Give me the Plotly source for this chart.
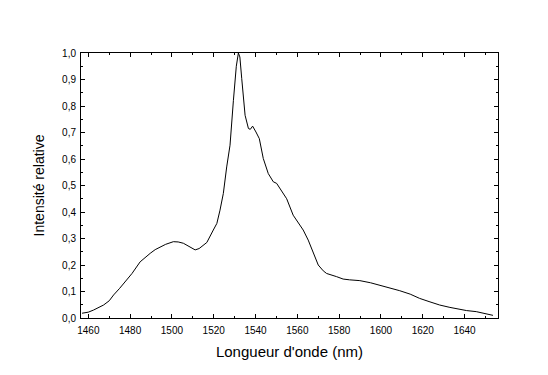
import plotly.graph_objects as go

wavelength = [1457, 1460, 1462.5, 1465, 1467.3, 1470, 1472.1, 1475, 1476.9, 1480.9,
              1484.8, 1487, 1489.6, 1492, 1494.4, 1497, 1500.7, 1503, 1505.5, 1508,
              1511.1, 1513, 1516.7, 1519.8, 1521.5, 1523.0, 1524.6, 1526.2, 1527.8, 1529.4,
              1530.8, 1531.8, 1532.5, 1533.4, 1535.0, 1536.6, 1537.5, 1538.6, 1539.3, 1540.2,
              1541.8, 1543.7, 1546.1, 1548.5, 1550.1, 1551.7, 1554.9, 1558.0, 1560.5, 1562.8,
              1565.2, 1567.6, 1570.0, 1572.4, 1574.0, 1578.8, 1581.9, 1585, 1589.9, 1595,
              1599.4, 1604, 1609.0, 1614, 1618.5, 1623, 1628.1, 1633, 1637.6, 1641,
              1645.6, 1649, 1652.0, 1653.6]
intensity = [0.018, 0.022, 0.030, 0.040, 0.049, 0.065, 0.087, 0.112, 0.131, 0.168,
             0.212, 0.228, 0.244, 0.258, 0.269, 0.278, 0.288, 0.287, 0.282, 0.272,
             0.257, 0.262, 0.285, 0.332, 0.357, 0.407, 0.470, 0.570, 0.652, 0.820,
             0.950, 1.000, 0.985, 0.903, 0.765, 0.715, 0.712, 0.724, 0.715, 0.702,
             0.677, 0.602, 0.545, 0.514, 0.508, 0.489, 0.450, 0.388, 0.360, 0.332,
             0.294, 0.244, 0.200, 0.178, 0.168, 0.156, 0.147, 0.144, 0.141, 0.133,
             0.124, 0.115, 0.103, 0.090, 0.074, 0.062, 0.049, 0.040, 0.033, 0.028,
             0.024, 0.018, 0.015, 0.010]

x_ticks = [1460, 1480, 1500, 1520, 1540, 1560, 1580, 1600, 1620, 1640]
y_ticks = [0.0, 0.1, 0.2, 0.3, 0.4, 0.5, 0.6, 0.7, 0.8, 0.9, 1.0]
y_tick_labels = ["0,0", "0,1", "0,2", "0,3", "0,4", "0,5", "0,6", "0,7", "0,8", "0,9", "1,0"]

FONT = "Liberation Sans, Arial, sans-serif"

fig = go.Figure()
fig.add_trace(go.Scatter(x=wavelength, y=intensity, mode="lines",
                         line=dict(color="black", width=1), showlegend=False))

axis_common = dict(showline=True, linecolor="black", linewidth=1, mirror="ticks",
                   ticks="inside", ticklen=4, tickcolor="black", tickwidth=1,
                   showgrid=False, zeroline=False,
                   tickfont=dict(family=FONT, size=10, color="black"))

fig.update_layout(
    width=548, height=375,
    margin=dict(l=73, r=58, t=45, b=65),
    paper_bgcolor="white", plot_bgcolor="white",
    xaxis=dict(range=[1456.5, 1656], tickvals=x_ticks, ticklabelstandoff=3,
               minor=dict(dtick=10, tick0=1460, ticks="inside", ticklen=2, tickcolor="black"),
               title=dict(text="Longueur d'onde (nm)", standoff=11,
                          font=dict(family=FONT, size=15, color="black")),
               **axis_common),
    yaxis=dict(range=[0, 1.0], tickvals=y_ticks, ticktext=y_tick_labels, ticklabelstandoff=2,
               minor=dict(dtick=0.05, tick0=0, ticks="inside", ticklen=2, tickcolor="black"),
               title=dict(text="Intensité relative", standoff=14,
                          font=dict(family=FONT, size=14, color="black")),
               **axis_common),
)

fig.write_html("out.html")
